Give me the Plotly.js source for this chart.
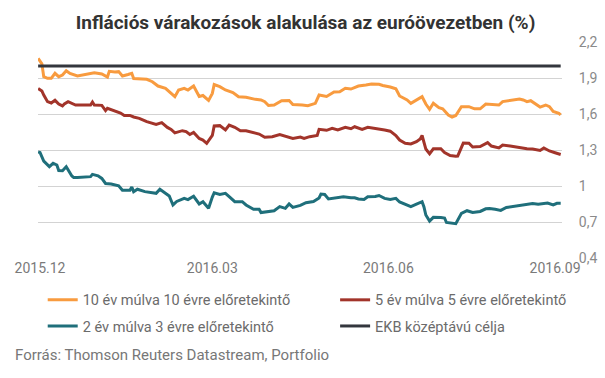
<!DOCTYPE html>
<html>
<head>
<meta charset="utf-8">
<script src="https://cdn.plot.ly/plotly-3.0.1.min.js"></script>
<style>html,body{margin:0;padding:0;background:#fff;}#chart{width:605px;height:378px;}</style>
</head>
<body>
<div id="chart"></div>
<script>
// x values: days since 2015-12-01
const xTickVals = [0, 92, 186, 275];
const xTickText = ['2015.12', '2016.03', '2016.06', '2016.09'];
const yTickVals = [0.4, 0.7, 1.0, 1.3, 1.6, 1.9, 2.2];
const yTickText = ['0,4', '0,7', '1', '1,3', '1,6', '1,9', '2,2'];

const names = ['10 év múlva 10 évre előretekintő', '5 év múlva 5 évre előretekintő', '2 év múlva 3 évre előretekintő', 'EKB középtávú célja'];

const days10y10 = [-1,1,2,4,6,8,10,12,14,16,20,23,27,29,33,36,37,40,42,44,47,49,50,54,57,60,63,67,70,72,74,77,79,82,85,87,90,92,93,96,99,103,106,110,115,118,120,122,125,129,133,135,140,143,147,149,153,157,160,163,166,170,174,177,181,183,187,190,192,196,198,201,204,206,208,210,213,215,218,220,222,225,229,232,235,238,242,245,247,251,254,256,258,260,262,264,267,270,272,274,277,278];
const val10y10 = [2.064,2.018,1.911,1.897,1.897,1.939,1.911,1.925,1.961,1.938,1.917,1.925,1.933,1.944,1.933,1.908,1.956,1.950,1.953,1.917,1.929,1.939,1.896,1.889,1.889,1.869,1.833,1.813,1.772,1.744,1.800,1.814,1.800,1.833,1.746,1.754,1.713,1.772,1.846,1.828,1.800,1.779,1.744,1.739,1.722,1.717,1.703,1.671,1.675,1.711,1.713,1.679,1.675,1.669,1.689,1.758,1.746,1.783,1.786,1.814,1.808,1.833,1.842,1.850,1.848,1.838,1.825,1.810,1.750,1.717,1.689,1.714,1.744,1.683,1.639,1.689,1.652,1.643,1.592,1.575,1.588,1.661,1.661,1.643,1.643,1.683,1.681,1.675,1.703,1.713,1.717,1.725,1.717,1.703,1.711,1.689,1.658,1.675,1.661,1.621,1.606,1.592];

const days5y5 = [-1,1,2,4,6,8,10,12,13,15,19,27,28,29,33,35,36,40,43,45,48,50,53,57,62,65,68,70,72,76,78,80,82,85,87,89,92,93,96,99,101,104,107,110,114,117,120,124,128,132,135,139,141,144,148,149,153,156,159,163,166,168,172,175,179,182,184,187,190,192,195,198,201,203,204,206,208,210,214,216,219,222,223,226,229,231,235,239,241,245,247,251,254,257,260,263,267,269,272,275,278];
const val5y5 = [1.813,1.792,1.758,1.703,1.692,1.714,1.683,1.667,1.683,1.703,1.675,1.675,1.700,1.675,1.672,1.628,1.647,1.628,1.608,1.588,1.588,1.575,1.564,1.536,1.513,1.528,1.488,1.471,1.443,1.461,1.453,1.429,1.446,1.396,1.383,1.356,1.421,1.500,1.503,1.467,1.508,1.489,1.461,1.461,1.444,1.433,1.406,1.411,1.428,1.411,1.397,1.408,1.397,1.411,1.421,1.472,1.464,1.481,1.467,1.489,1.477,1.494,1.472,1.489,1.481,1.472,1.467,1.457,1.421,1.383,1.356,1.350,1.369,1.392,1.421,1.308,1.268,1.310,1.310,1.279,1.254,1.248,1.250,1.358,1.356,1.325,1.329,1.361,1.333,1.317,1.342,1.333,1.325,1.321,1.311,1.308,1.296,1.317,1.292,1.277,1.263];

const days2y3 = [-1,0,2,4,5,7,9,10,12,14,15,17,18,20,27,28,31,33,35,38,42,44,48,49,50,52,56,59,62,64,66,69,71,73,77,79,82,85,87,90,92,93,96,99,101,104,108,110,114,117,118,121,125,128,131,133,135,139,142,146,149,150,152,154,158,162,166,168,170,173,175,179,181,184,187,190,192,195,198,201,204,205,206,208,210,214,216,217,221,222,225,228,231,235,238,240,243,246,249,253,256,260,263,266,269,271,274,276,278];
const val2y3 = [1.283,1.279,1.208,1.175,1.161,1.189,1.175,1.129,1.127,1.161,1.133,1.083,1.071,1.071,1.078,1.097,1.085,1.063,1.021,1.017,1.002,0.964,0.964,0.992,0.953,0.973,0.953,0.944,0.939,0.973,0.948,0.917,0.842,0.871,0.897,0.887,0.914,0.850,0.869,0.814,0.908,0.944,0.929,0.939,0.911,0.869,0.869,0.842,0.806,0.806,0.779,0.786,0.794,0.828,0.814,0.850,0.822,0.838,0.861,0.871,0.900,0.933,0.929,0.892,0.902,0.911,0.902,0.902,0.892,0.888,0.911,0.913,0.921,0.897,0.888,0.897,0.867,0.850,0.828,0.848,0.869,0.825,0.758,0.708,0.739,0.738,0.733,0.696,0.686,0.686,0.772,0.794,0.779,0.788,0.810,0.813,0.806,0.797,0.821,0.831,0.839,0.846,0.854,0.848,0.856,0.858,0.842,0.856,0.856];

const daysTarget = [-1, 278];
const valTarget = [2.0, 2.0];

const colors = ['#F89B3F', '#A2342A', '#1F6F7B', '#33363D'];

const traces = [
  {x: days10y10, y: val10y10, name: names[0], legend: 'legend'},
  {x: days5y5, y: val5y5, name: names[1], legend: 'legend2'},
  {x: days2y3, y: val2y3, name: names[2], legend: 'legend3'},
  {x: daysTarget, y: valTarget, name: names[3], legend: 'legend4'}
].map((t, i) => Object.assign(t, {
  type: 'scatter', mode: 'lines', showlegend: true,
  line: {color: colors[i], width: 3}
}));

const legendBase = {
  orientation: 'h', xanchor: 'left', yanchor: 'middle',
  font: {family: 'Roboto, sans-serif', size: 14.5, color: '#6b6b6b'},
  bgcolor: 'rgba(0,0,0,0)', itemclick: false, visible: true
};

const layout = {
  width: 605, height: 378,
  showlegend: true,
  margin: {l: 38, r: 43, t: 42, b: 120},
  paper_bgcolor: '#fff', plot_bgcolor: '#fff',
  font: {family: 'Roboto, sans-serif', color: '#777'},
  title: {
    text: '<b>Inflációs várakozások alakulása az euróövezetben (%)</b>',
    x: 0.505, xanchor: 'center', y: 0.94, yanchor: 'middle',
    font: {family: 'Roboto, sans-serif', size: 19, color: '#333'}
  },
  xaxis: {
    range: [-1.07, 278.7], showgrid: false, zeroline: false, showline: false,
    tickvals: xTickVals, ticktext: xTickText, ticks: '',
    tickfont: {size: 14, color: '#7a7a7a'}
  },
  yaxis: {
    side: 'right', range: [0.4, 2.2], tickvals: yTickVals, ticktext: yTickText,
    showgrid: true, gridcolor: '#d3d3d3', gridwidth: 1, zeroline: false, showline: false,
    ticks: 'outside', ticklen: 13, tickcolor: 'rgba(0,0,0,0)',
    tickfont: {size: 14, color: '#8a8a8a'}
  },
  legend: Object.assign({}, legendBase, {x: 0.009, y: -0.194}),
  legend2: Object.assign({}, legendBase, {x: 0.567, y: -0.194}),
  legend3: Object.assign({}, legendBase, {x: 0.009, y: -0.315}),
  legend4: Object.assign({}, legendBase, {x: 0.567, y: -0.315}),
  annotations: [{
    text: 'Forrás: Thomson Reuters Datastream, Portfolio',
    xref: 'paper', yref: 'paper', x: -0.048, y: -0.45,
    xanchor: 'left', yanchor: 'middle', showarrow: false,
    font: {family: 'Roboto, sans-serif', size: 15, color: '#777'}
  }]
};

Plotly.newPlot('chart', traces, layout, {displayModeBar: false, staticPlot: true});
</script>
</body>
</html>
